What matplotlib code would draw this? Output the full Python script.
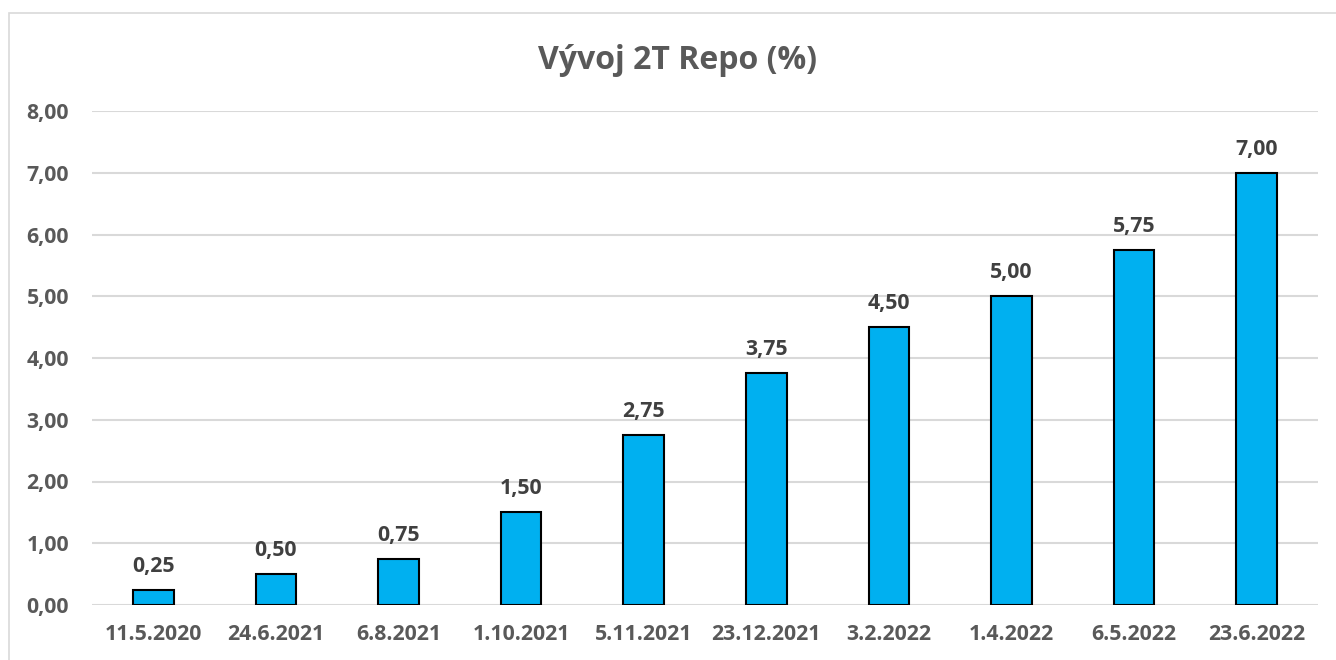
import matplotlib.pyplot as plt
from matplotlib.patches import Rectangle

dates = ["11.5.2020", "24.6.2021", "6.8.2021", "1.10.2021", "5.11.2021",
         "23.12.2021", "3.2.2022", "1.4.2022", "6.5.2022", "23.6.2022"]
repo = [0.25, 0.50, 0.75, 1.50, 2.75, 3.75, 4.50, 5.00, 5.75, 7.00]
yticks = [0, 1, 2, 3, 4, 5, 6, 7, 8]

plt.rcParams['font.family'] = ['Open Sans', 'DejaVu Sans']
plt.rcParams['font.stretch'] = 'normal'

W, H = 1336, 660
fig = plt.figure(figsize=(W / 100, H / 100), dpi=100)
ax = fig.add_axes([92 / W, (H - 605) / H, (1318 - 92) / W, (605 - 111) / H])

# chart frame
fig.patches.append(Rectangle((9 / W, -0.05), 1.1, 1 - 13 / H + 0.05,
                             transform=fig.transFigure, fill=False,
                             edgecolor='#d9d9d9', linewidth=1.2))

x = range(len(dates))
bars = ax.bar(x, repo, width=0.33, color='#00b0f0', edgecolor='black',
              linewidth=1.5, zorder=3)

for b, v in zip(bars, repo):
    ax.annotate(f"{v:.2f}".replace('.', ','),
                (b.get_x() + b.get_width() / 2, v),
                xytext=(0, 13), textcoords='offset points',
                ha='center', va='baseline', fontsize=15.3,
                fontweight='bold', color='#404040')

ax.set_xlim(-0.5, len(dates) - 0.5)
ax.set_ylim(0, 8)
ax.set_yticks(yticks)
ax.set_yticklabels([f"{t:.2f}".replace('.', ',') for t in yticks])
ax.set_xticks(list(x))
ax.set_xticklabels(dates)
ax.grid(axis='y', color='#d9d9d9', linewidth=1.5, zorder=0)
for s in ax.spines.values():
    s.set_visible(False)
ax.tick_params(length=0, labelsize=15.3, labelcolor='#595959')
ax.tick_params(axis='y', pad=16.5)
ax.tick_params(axis='x', pad=14)
for lbl in ax.get_xticklabels() + ax.get_yticklabels():
    lbl.set_fontweight('bold')

fig.text(678 / W, 1 - 69 / H, "Vývoj 2T Repo (%)", ha='center', va='baseline',
         fontsize=23, fontweight='bold', color='#595959')

fig.savefig('out.png', dpi=100)
